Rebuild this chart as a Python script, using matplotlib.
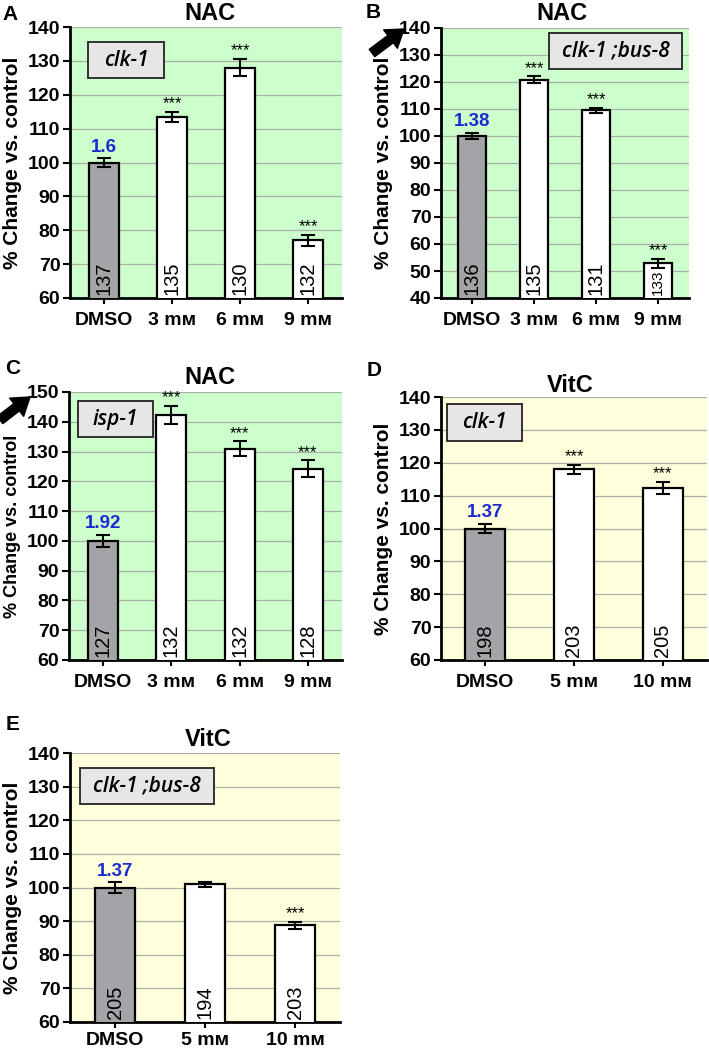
import matplotlib
matplotlib.use("Agg")
import matplotlib.pyplot as plt
from matplotlib.patches import Rectangle, FancyArrowPatch

plt.rcParams['font.family'] = ['Liberation Sans', 'DejaVu Sans']

W, H = 709, 1049

# ---------------- data ----------------
nac_cats = ["DMSO", "3 m\u1d0d", "6 m\u1d0d", "9 m\u1d0d"]
vitc_cats = ["DMSO", "5 m\u1d0d", "10 m\u1d0d"]

A_vals = [100, 113.4, 128.0, 77.0]
A_err = [1.2, 1.5, 2.6, 1.7]
A_n = ["137", "135", "130", "132"]
A_sig = ["", "***", "***", "***"]
A_base = "1.6"

B_vals = [100, 120.8, 109.5, 52.8]
B_err = [1.2, 1.3, 1.0, 1.6]
B_n = ["136", "135", "131", "133"]
B_sig = ["", "***", "***", "***"]
B_base = "1.38"

C_vals = [100, 142.3, 131.0, 124.2]
C_err = [2.0, 3.0, 2.4, 2.9]
C_n = ["127", "132", "132", "128"]
C_sig = ["", "***", "***", "***"]
C_base = "1.92"

D_vals = [100, 118.0, 112.4]
D_err = [1.5, 1.4, 1.8]
D_n = ["198", "203", "205"]
D_sig = ["", "***", "***"]
D_base = "1.37"

E_vals = [100, 100.9, 88.8]
E_err = [1.5, 0.8, 1.0]
E_n = ["205", "194", "203"]
E_sig = ["", "", "***"]
E_base = "1.37"

GREEN = "#ccffcc"
YELLOW = "#ffffdc"
GRAY = "#a4a4a8"
BLUE = "#1a2bd0"

fig = plt.figure(figsize=(W / 100, H / 100), dpi=100)


def px_axes(x0, y0, x1, y1):
    return fig.add_axes([x0 / W, 1 - y1 / H, (x1 - x0) / W, (y1 - y0) / H])


def panel(ax_px, cats, vals, errs, ns, sigs, base, ylim, ystep, bg, width,
          title, title_px, letter, letter_px, gene, box_px, nsize=14.5,
          small_last=False, xpad=6, ylsize=15):
    ax = px_axes(*ax_px)
    ax.set_facecolor(bg)
    x = list(range(len(cats)))
    colors = [GRAY] + ["white"] * (len(cats) - 1)
    ax.bar(x, vals, width=width, color=colors, edgecolor="black",
           linewidth=1.6, zorder=3)
    ax.errorbar(x, vals, yerr=errs, fmt="none", ecolor="black",
                elinewidth=1.5, capsize=5, capthick=1.5, zorder=4)
    ax.set_xlim(-0.5, len(cats) - 0.5)
    ax.set_ylim(*ylim)
    ax.set_yticks(range(ylim[0], ylim[1] + 1, ystep))
    ax.set_xticks(x)
    ax.set_xticklabels(cats, fontsize=14, fontweight="bold")
    for lab in ax.get_yticklabels():
        lab.set_fontsize(14)
        lab.set_fontweight("bold")
    ax.yaxis.grid(True, color="#a8b0a8", linewidth=0.9, zorder=0)
    ax.set_axisbelow(True)
    for s in ("top", "right"):
        ax.spines[s].set_visible(False)
    for s in ("left", "bottom"):
        ax.spines[s].set_linewidth(2)
    ax.tick_params(axis="y", direction="out", length=5, width=1.5, pad=2)
    ax.tick_params(axis="x", direction="out", length=4, width=1.5, pad=xpad)
    ax.set_ylabel("% Change vs. control", fontsize=ylsize, fontweight="bold",
                  labelpad=4)
    rng = ylim[1] - ylim[0]
    for i, (v, e, n, s) in enumerate(zip(vals, errs, ns, sigs)):
        fs = nsize
        if small_last and i == len(vals) - 1:
            fs = 11
        ax.text(i, ylim[0] + rng * 0.01, n, rotation=90, ha="center",
                va="bottom", fontsize=fs, zorder=5)
        if s:
            ax.text(i, v + e + rng * 0.002, s, ha="center", va="bottom",
                    fontsize=12, zorder=5)
    ax.text(0, vals[0] + errs[0] + rng * 0.01, base, ha="center", va="bottom",
            fontsize=13.5, fontweight="bold", color=BLUE, zorder=5)
    # gene box
    bx0, by0, bx1, by1 = box_px
    fig.patches.append(Rectangle((bx0 / W, 1 - by1 / H), (bx1 - bx0) / W,
                                 (by1 - by0) / H, transform=fig.transFigure,
                                 facecolor="#e6e6e6", edgecolor="#222222",
                                 linewidth=1.3, zorder=10))
    fig.text((bx0 + bx1) / 2 / W, 1 - (by0 + by1) / 2 / H, gene,
             ha="center", va="center", fontsize=15, style="italic",
             fontweight="semibold",
             family=["Open Sans", "DejaVu Sans"], zorder=11)
    fig.text(title_px[0] / W, 1 - title_px[1] / H, title, ha="center",
             va="center", fontsize=17, fontweight="bold")
    fig.text(letter_px[0] / W, 1 - letter_px[1] / H, letter, ha="center",
             va="center", fontsize=15, fontweight="bold")
    return ax


panel((70, 27, 342, 298), nac_cats, A_vals, A_err, A_n, A_sig, A_base,
      (60, 140), 10, GREEN, 0.44, "NAC", (210, 13), "A", (10, 15),
      "clk-1", (88, 42, 164, 78))
panel((441, 28, 689, 298), nac_cats, B_vals, B_err, B_n, B_sig, B_base,
      (40, 140), 10, GREEN, 0.46, "NAC", (562, 13), "B", (373, 13),
      "clk-1 ;bus-8", (549, 33, 682, 69), small_last=True)
panel((69, 392, 342, 660), nac_cats, C_vals, C_err, C_n, C_sig, C_base,
      (60, 150), 10, GREEN, 0.44, "NAC", (210, 377), "C", (13, 368),
      "isp-1", (78, 401, 153, 437), ylsize=13)
panel((441, 397, 707, 660), vitc_cats, D_vals, D_err, D_n, D_sig, D_base,
      (60, 140), 10, YELLOW, 0.45, "VitC", (570, 386), "D", (374, 370),
      "clk-1", (447, 404, 522, 441))
panel((70, 753, 340, 1022), vitc_cats, E_vals, E_err, E_n, E_sig, E_base,
      (60, 140), 10, YELLOW, 0.45, "VitC", (208, 740), "E", (13, 725),
      "clk-1 ;bus-8", (80, 768, 214, 804), xpad=3)

# arrows pointing at the top tick labels in B and C
arrow_style = "simple,head_width=1.5,head_length=1.1,tail_width=0.6"
for (x0, y0, x1, y1) in [(372, 53, 404, 29), (0, 420, 30, 397)]:
    fig.add_artist(FancyArrowPatch(
        (x0 / W, 1 - y0 / H), (x1 / W, 1 - y1 / H),
        transform=fig.transFigure, arrowstyle=arrow_style,
        mutation_scale=11, color="black", shrinkA=0, shrinkB=0))

fig.savefig("out.png", dpi=100)
